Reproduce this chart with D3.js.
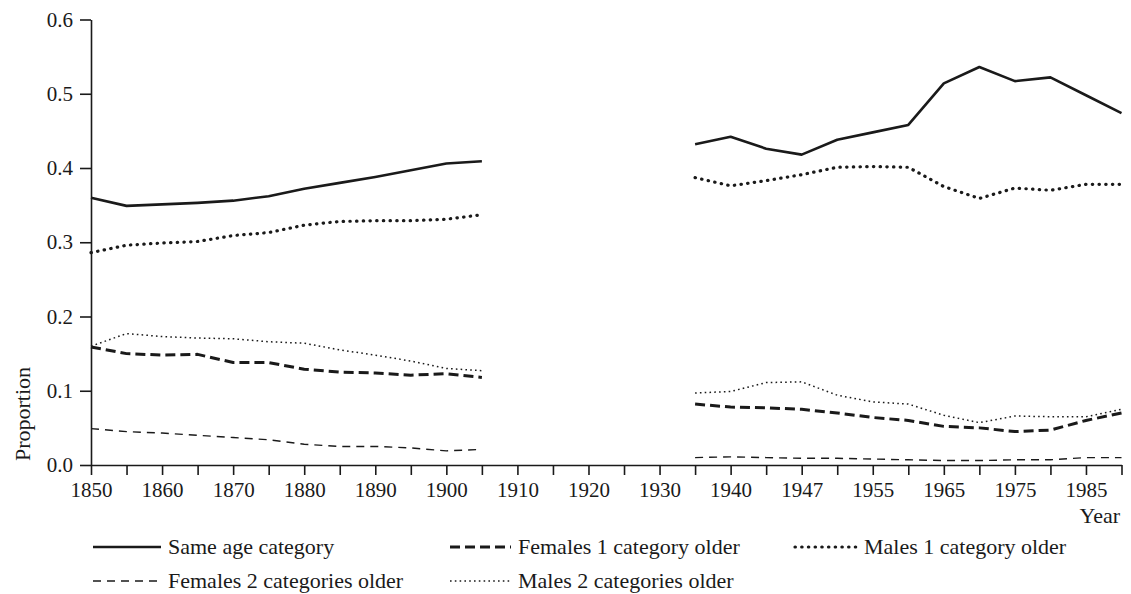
<!DOCTYPE html>
<html>
<head>
<meta charset="utf-8">
<script src="https://cdn.jsdelivr.net/npm/d3@7"></script>
<style>
body { margin: 0; background: #fff; }
svg { display: block; }
text { font-family: "Liberation Serif", "Times New Roman", serif; fill: #1a1a1a; }
</style>
</head>
<body>
<svg id="chart" width="1131" height="594"></svg>
<script>
// x positions are evenly spaced observation slots; labels sit on every 2nd slot
var tickLabels = ["1850","1860","1870","1880","1890","1900","1910","1920","1930","1940","1947","1955","1965","1975","1985"];
var slotCount = 30;
var firstSlots = d3.range(0, 12);   // 1850 .. 1905
var secondSlots = d3.range(17, 30); // 1935 .. 1990

var seriesNames = ["Same age category", "Females 1 category older", "Males 1 category older",
                   "Females 2 categories older", "Males 2 categories older"];

var sameAge1 = [0.360, 0.349, 0.351, 0.353, 0.356, 0.362, 0.372, 0.380, 0.388, 0.397, 0.406, 0.409];
var sameAge2 = [0.432, 0.442, 0.426, 0.418, 0.438, 0.448, 0.458, 0.514, 0.536, 0.517, 0.522, 0.498, 0.474];
var fem1_1 = [0.159, 0.150, 0.148, 0.149, 0.138, 0.138, 0.129, 0.125, 0.124, 0.121, 0.123, 0.118];
var fem1_2 = [0.082, 0.078, 0.077, 0.075, 0.070, 0.064, 0.060, 0.052, 0.050, 0.045, 0.047, 0.060, 0.070];
var male1_1 = [0.286, 0.296, 0.299, 0.301, 0.309, 0.313, 0.323, 0.328, 0.329, 0.329, 0.331, 0.337];
var male1_2 = [0.387, 0.376, 0.383, 0.391, 0.401, 0.402, 0.401, 0.375, 0.359, 0.373, 0.370, 0.378, 0.378];
var fem2_1 = [0.049, 0.045, 0.043, 0.040, 0.037, 0.034, 0.028, 0.025, 0.025, 0.023, 0.019, 0.021];
var fem2_2 = [0.010, 0.011, 0.010, 0.009, 0.009, 0.008, 0.007, 0.006, 0.006, 0.007, 0.007, 0.010, 0.010];
var male2_1 = [0.160, 0.177, 0.173, 0.171, 0.170, 0.166, 0.164, 0.155, 0.148, 0.140, 0.130, 0.127];
var male2_2 = [0.097, 0.099, 0.111, 0.112, 0.094, 0.085, 0.082, 0.067, 0.057, 0.066, 0.065, 0.065, 0.075];

var yTicks = [0, 0.1, 0.2, 0.3, 0.4, 0.5, 0.6];

var styles = [
	{ width: 2.6, dash: null, cap: "butt" },
	{ width: 3, dash: "10,5", cap: "butt" },
	{ width: 3.2, dash: "0.4,6.3", cap: "round" },
	{ width: 1.4, dash: "8,6", cap: "butt" },
	{ width: 1.5, dash: "1.6,3.2", cap: "butt" }
];

var svg = d3.select("#chart"),
	x = d3.scaleLinear().domain([0, slotCount - 1]).range([91, 1121.5]),
	y = d3.scaleLinear().domain([0, 0.6]).range([465, 19.5]),
	ink = "#1a1a1a";

// axes
var xAxis = d3.axisBottom(x)
	.tickValues(d3.range(0, slotCount))
	.tickSize(10).tickSizeOuter(0).tickPadding(7)
	.tickFormat(function(i) { return i % 2 ? "" : tickLabels[i / 2]; });

var gx = svg.append("g").attr("transform", "translate(0," + y(0) + ")").call(xAxis);
gx.selectAll("text").style("font-size", "21px");

var yAxis = d3.axisLeft(y)
	.tickValues(yTicks)
	.tickSize(11).tickSizeOuter(0).tickPadding(7)
	.tickFormat(d3.format(".1f"));

var gy = svg.append("g").attr("transform", "translate(" + x(0) + ",0)").call(yAxis);
gy.selectAll("text").style("font-size", "21px");

svg.selectAll(".domain, .tick line").attr("stroke", ink).attr("stroke-width", 1.6);

svg.append("text")
	.attr("transform", "translate(30,414) rotate(-90)")
	.attr("text-anchor", "middle")
	.style("font-size", "22px")
	.text("Proportion");

svg.append("text")
	.attr("x", 1120).attr("y", 523)
	.attr("text-anchor", "end")
	.style("font-size", "22px")
	.text("Year");

// lines
var series = [
	[sameAge1, sameAge2],
	[fem1_1, fem1_2],
	[male1_1, male1_2],
	[fem2_1, fem2_2],
	[male2_1, male2_2]
];

var line = d3.line()
	.x(function(d) { return x(d[0]); })
	.y(function(d) { return y(d[1]); });

series.forEach(function(s, k) {
	[[firstSlots, s[0]], [secondSlots, s[1]]].forEach(function(seg) {
		var pts = seg[0].map(function(slot, i) { return [slot, seg[1][i]]; });
		svg.append("path")
			.attr("d", line(pts))
			.attr("fill", "none")
			.attr("stroke", ink)
			.attr("stroke-width", styles[k].width)
			.attr("stroke-linecap", styles[k].cap)
			.attr("stroke-linejoin", "round")
			.attr("stroke-dasharray", styles[k].dash);
	});
});

// legend, two rows (second row nudged up so the descenders stay on the page)
var legendPos = [
	{ x: 93, y: 547, len: 68 },
	{ x: 450, y: 547, len: 61 },
	{ x: 795, y: 547, len: 62 },
	{ x: 93, y: 581, len: 68 },
	{ x: 450, y: 581, len: 61 }
];

seriesNames.forEach(function(name, k) {
	var p = legendPos[k];
	var g = svg.append("g").attr("transform", "translate(" + p.x + "," + p.y + ")");
	g.append("line")
		.attr("x1", 0).attr("x2", p.len)
		.attr("stroke", ink)
		.attr("stroke-width", styles[k].width)
		.attr("stroke-linecap", styles[k].cap)
		.attr("stroke-dasharray", styles[k].dash);
	g.append("text")
		.attr("x", p.len + 7).attr("dy", "0.33em")
		.style("font-size", "22px")
		.text(name);
});
</script>
</body>
</html>
